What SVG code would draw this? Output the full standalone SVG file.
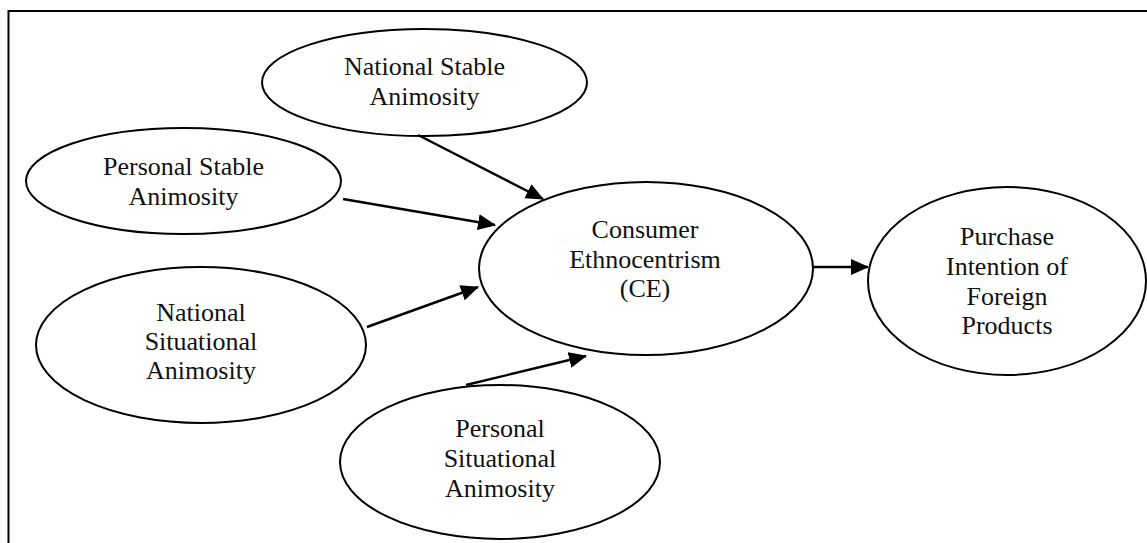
<svg xmlns="http://www.w3.org/2000/svg" width="1147" height="543" viewBox="0 0 1147 543">
<style>
.n ellipse{fill:#fff;stroke:#000;stroke-width:2}
.n text{font-family:"Liberation Serif","Times New Roman",serif;font-size:26px;fill:#111;text-anchor:middle}
.c line{stroke:#000;stroke-width:2.4;marker-end:url(#ah)}
.frame{fill:none;stroke:#000;stroke-width:2}
</style>
<defs>
<marker id="ah" markerWidth="18" markerHeight="16" refX="17" refY="8" orient="auto" markerUnits="userSpaceOnUse">
<path d="M0,0 L18,8 L0,16 z" fill="#000"/>
</marker>
</defs>
<rect width="1147" height="543" fill="#fff"/>
<path class="frame" d="M8.5,543 V11 H1147"/>
<g id="national-stable" class="n">
<ellipse cx="424.5" cy="82.5" rx="162.5" ry="53.5"/>
<text x="424.5" y="75">National Stable</text>
<text x="424.5" y="105">Animosity</text>
</g>
<g id="personal-stable" class="n">
<ellipse cx="183.5" cy="181" rx="157.5" ry="53"/>
<text x="183.5" y="175">Personal Stable</text>
<text x="183.5" y="205">Animosity</text>
</g>
<g id="national-situational" class="n">
<ellipse cx="201" cy="345" rx="165" ry="78"/>
<text x="201" y="321">National</text>
<text x="201" y="350">Situational</text>
<text x="201" y="379">Animosity</text>
</g>
<g id="personal-situational" class="n">
<ellipse cx="500" cy="462" rx="160" ry="77"/>
<text x="500" y="437">Personal</text>
<text x="500" y="467">Situational</text>
<text x="500" y="497">Animosity</text>
</g>
<g id="ce" class="n">
<ellipse cx="646" cy="268.5" rx="167" ry="86.5"/>
<text x="645" y="238">Consumer</text>
<text x="645" y="268">Ethnocentrism</text>
<text x="645" y="297">(CE)</text>
</g>
<g id="purchase" class="n">
<ellipse cx="1007" cy="281" rx="139" ry="94"/>
<text x="1007" y="245">Purchase</text>
<text x="1007" y="275">Intention of</text>
<text x="1007" y="305">Foreign</text>
<text x="1007" y="334">Products</text>
</g>
<g id="connectors" class="c">
<line x1="418" y1="135" x2="543" y2="199"/>
<line x1="343" y1="199" x2="495" y2="225"/>
<line x1="367" y1="327" x2="478" y2="287"/>
<line x1="466" y1="385" x2="586" y2="356"/>
<line x1="813" y1="267" x2="868" y2="267"/>
</g>
</svg>
